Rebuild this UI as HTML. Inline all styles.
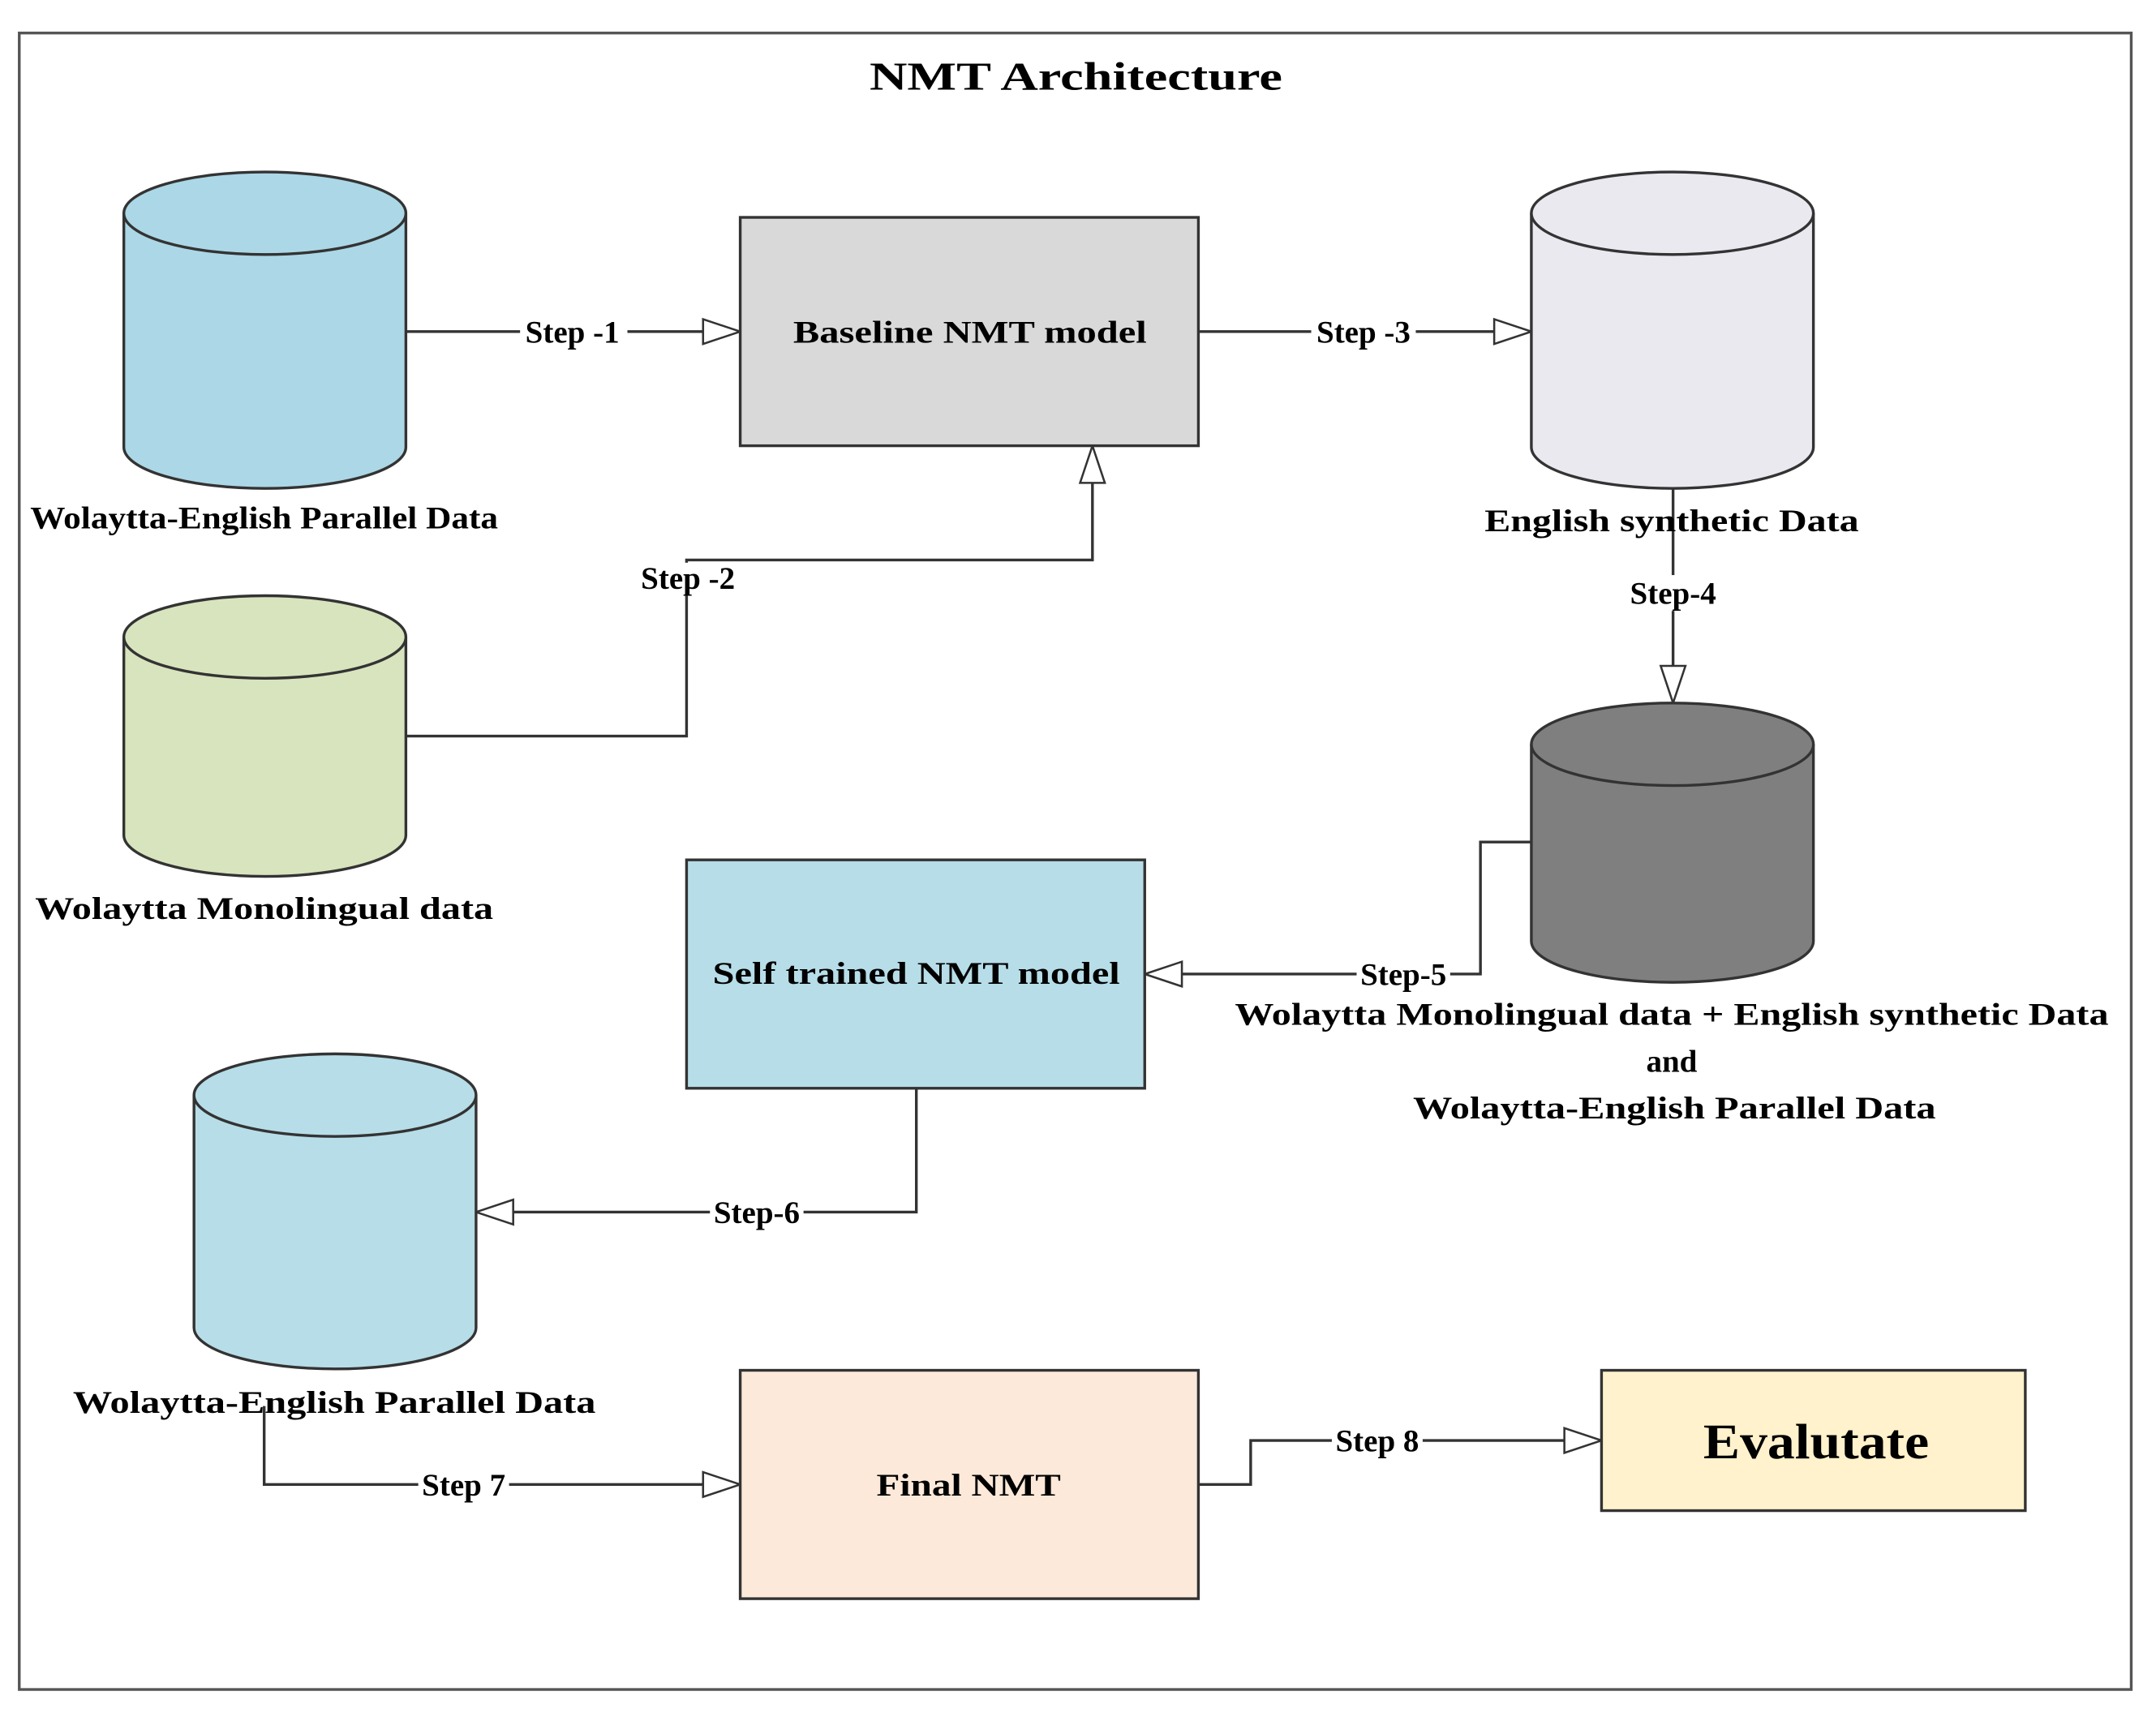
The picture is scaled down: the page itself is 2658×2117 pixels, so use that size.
<!DOCTYPE html>
<html><head><meta charset="utf-8"><style>html,body{margin:0;padding:0;background:#fff}svg{display:block}</style></head>
<body>
<svg width="2658" height="2117" viewBox="0 0 1567 1248" preserveAspectRatio="none" xmlns="http://www.w3.org/2000/svg" font-family="Liberation Serif, serif" font-weight="bold">
<defs>
<marker id="a" markerWidth="30" markerHeight="22" refX="28" refY="11" orient="auto" markerUnits="userSpaceOnUse">
<path d="M1,2 L28,11 L1,20 Z" fill="#fff" stroke="#333" stroke-width="1.5"/>
</marker>
</defs>
<rect x="14" y="24" width="1535" height="1204" fill="#fff" stroke="#555" stroke-width="2"/>
<text x="782" y="65" font-size="29" text-anchor="middle" textLength="300" lengthAdjust="spacingAndGlyphs">NMT Architecture</text>

<g stroke="#333" stroke-width="2" fill="none">
<path d="M295,241 H538" marker-end="url(#a)"/>
<path d="M295,535 H499 V407 H794 V324" marker-end="url(#a)"/>
<path d="M871,241 H1113" marker-end="url(#a)"/>
<path d="M1216,355 V511" marker-end="url(#a)"/>
<path d="M1113,612 H1076 V708 H832" marker-end="url(#a)"/>
<path d="M666,791 V881 H346" marker-end="url(#a)"/>
<path d="M192,1022 V1079 H538" marker-end="url(#a)"/>
<path d="M871,1079 H909 V1047 H1164" marker-end="url(#a)"/>
</g>

<g stroke="#333" stroke-width="2">
<path d="M90,155 V325 A102.5,30 0 0 0 295,325 V155" fill="#acd7e6"/>
<ellipse cx="192.5" cy="155" rx="102.5" ry="30" fill="#acd7e6"/>
<path d="M90,463 V607 A102.5,30 0 0 0 295,607 V463" fill="#d8e4bd"/>
<ellipse cx="192.5" cy="463" rx="102.5" ry="30" fill="#d8e4bd"/>
<path d="M1113,155 V325 A102.5,30 0 0 0 1318,325 V155" fill="#ebe9f0"/>
<ellipse cx="1215.5" cy="155" rx="102.5" ry="30" fill="#ebe9f0"/>
<path d="M1113,541 V684 A102.5,30 0 0 0 1318,684 V541" fill="#7f7f7f"/>
<ellipse cx="1215.5" cy="541" rx="102.5" ry="30" fill="#7f7f7f"/>
<path d="M141,796 V965 A102.5,30 0 0 0 346,965 V796" fill="#b7dde8"/>
<ellipse cx="243.5" cy="796" rx="102.5" ry="30" fill="#b7dde8"/>
</g>

<g stroke="#333" stroke-width="2">
<rect x="538" y="158" width="333" height="166" fill="#d9d9d9"/>
<rect x="499" y="625" width="333" height="166" fill="#b7dde8"/>
<rect x="538" y="996" width="333" height="166" fill="#fce9d9"/>
<rect x="1164" y="996" width="308" height="102" fill="#fff2cc"/>
</g>

<g font-size="23" text-anchor="middle" lengthAdjust="spacingAndGlyphs">
<text x="705" y="249" textLength="257" lengthAdjust="spacingAndGlyphs">Baseline NMT model</text>
<text x="666" y="715" textLength="296" lengthAdjust="spacingAndGlyphs">Self trained NMT model</text>
<text x="704" y="1087" textLength="134" lengthAdjust="spacingAndGlyphs">Final NMT</text>
<text x="1320" y="1060" font-size="36" textLength="164" lengthAdjust="spacingAndGlyphs">Evalutate</text>
<text x="192" y="384" textLength="340" lengthAdjust="spacingAndGlyphs">Wolaytta-English Parallel Data</text>
<text x="192" y="668" textLength="333" lengthAdjust="spacingAndGlyphs">Wolaytta Monolingual data</text>
<text x="1215" y="386" textLength="272" lengthAdjust="spacingAndGlyphs">English synthetic Data</text>
<text x="1215" y="745" textLength="635" lengthAdjust="spacingAndGlyphs">Wolaytta Monolingual data + English synthetic Data</text>
<text x="1215" y="779">and</text>
<text x="1217" y="813" textLength="380" lengthAdjust="spacingAndGlyphs">Wolaytta-English Parallel Data</text>
<text x="243" y="1027" textLength="380" lengthAdjust="spacingAndGlyphs">Wolaytta-English Parallel Data</text>
</g>

<g font-size="23" text-anchor="middle">
<rect x="378" y="228" width="78" height="26" fill="#fff"/><text x="416" y="249">Step -1</text>
<rect x="461" y="409" width="78" height="24" fill="#fff"/><text x="500" y="428">Step -2</text>
<rect x="953" y="228" width="76" height="26" fill="#fff"/><text x="991" y="249">Step -3</text>
<rect x="1182" y="418" width="68" height="26" fill="#fff"/><text x="1216" y="439">Step-4</text>
<rect x="986" y="695" width="68" height="26" fill="#fff"/><text x="1020" y="716">Step-5</text>
<rect x="516" y="868" width="68" height="26" fill="#fff"/><text x="550" y="889">Step-6</text>
<rect x="304" y="1066" width="66" height="26" fill="#fff"/><text x="337" y="1087">Step 7</text>
<rect x="968" y="1034" width="66" height="26" fill="#fff"/><text x="1001" y="1055">Step 8</text>
</g>
</svg>
</body></html>
